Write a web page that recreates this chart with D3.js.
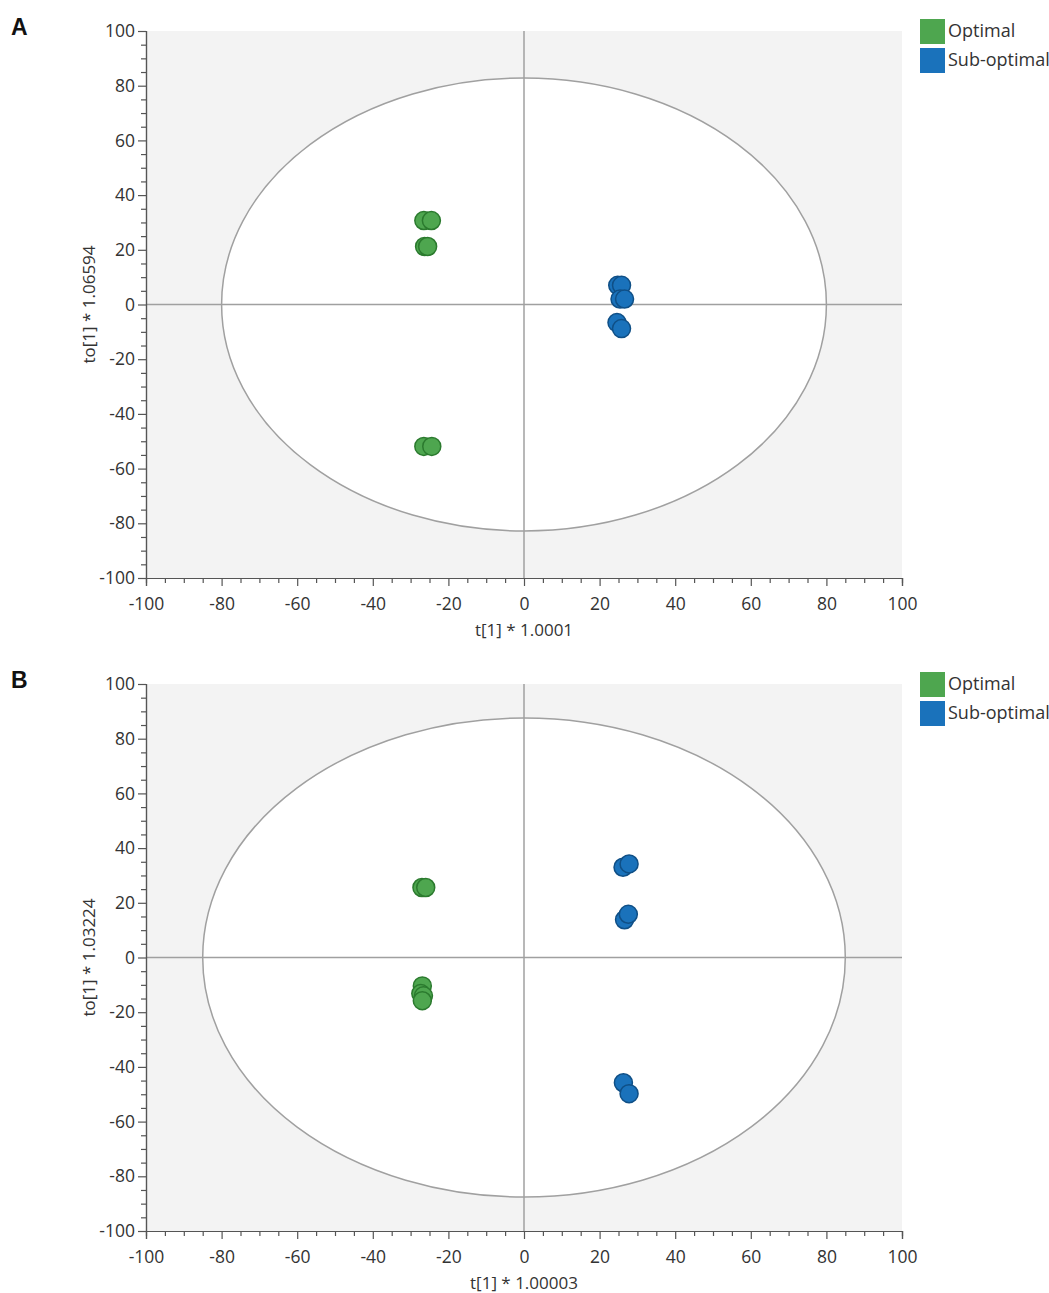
<!DOCTYPE html>
<html>
<head>
<meta charset="utf-8">
<script src="https://cdn.jsdelivr.net/npm/d3@7"></script>
<style>
  body { margin: 0; background: #fff; }
  svg text { font-family: "Open Sans", "Noto Sans", sans-serif; fill: #333; }
  .panel-letter { font-family: "Liberation Sans", Arial, sans-serif; font-weight: bold; fill: #111; }
</style>
</head>
<body>
<svg id="chart" width="1049" height="1293"></svg>
<script>
// tick values shared by both panels
var majorTicks = [-100, -80, -60, -40, -20, 0, 20, 40, 60, 80, 100];
var groups = ["Optimal", "Sub-optimal"];

// panel A scores: [t, to]
var optimalA = [[-26.5, 30.7], [-24.5, 30.7], [-26.3, 21.2], [-25.5, 21.2], [-26.5, -51.9], [-24.4, -51.9]];
var subOptimalA = [[24.8, 7.0], [25.8, 7.0], [25.4, 2.0], [26.6, 2.0], [24.6, -6.6], [25.8, -8.8]];
var ellipseA = [80, 82.8];

// panel B scores
var optimalB = [[-27.0, 25.6], [-26.0, 25.6], [-26.9, -10.4], [-27.3, -13.2], [-26.6, -14.0], [-26.9, -15.8]];
var subOptimalB = [[26.2, 33.0], [27.8, 34.2], [26.6, 13.8], [27.6, 15.8], [26.3, -45.8], [27.8, -49.8]];
var ellipseB = [85, 87.6];

var panels = [
  {letter: "A", top: 31, xlab: "t[1] * 1.0001", ylab: "to[1] * 1.06594", series: [optimalA, subOptimalA], ell: ellipseA},
  {letter: "B", top: 684, xlab: "t[1] * 1.00003", ylab: "to[1] * 1.03224", series: [optimalB, subOptimalB], ell: ellipseB}
];

var fills = ["#4ea64f", "#1a72bb"],
    strokes = ["#2b7a2e", "#0f4f86"],
    legendFills = ["#4ea64f", "#1a72bb"];

var svg = d3.select("#chart"),
    left = 146, right = 902, plotH = 547;

panels.forEach(function (p) {
  var g = svg.append("g");
  var x = d3.scaleLinear().domain([-100, 100]).range([left, right]),
      y = d3.scaleLinear().domain([-100, 100]).range([p.top + plotH, p.top]);

  // background
  g.append("rect")
    .attr("x", left).attr("y", p.top)
    .attr("width", right - left).attr("height", plotH)
    .attr("fill", "#f3f3f3");

  // Hotelling ellipse
  g.append("ellipse")
    .attr("cx", x(0)).attr("cy", y(0))
    .attr("rx", x(p.ell[0]) - x(0))
    .attr("ry", y(0) - y(p.ell[1]))
    .attr("fill", "#fff")
    .attr("stroke", "#a0a0a0")
    .attr("stroke-width", 1.5);

  // zero lines
  g.append("line")
    .attr("x1", x(0)).attr("x2", x(0))
    .attr("y1", p.top).attr("y2", p.top + plotH)
    .attr("stroke", "#a0a0a0").attr("stroke-width", 1.5);
  g.append("line")
    .attr("x1", left).attr("x2", right)
    .attr("y1", y(0)).attr("y2", y(0))
    .attr("stroke", "#a0a0a0").attr("stroke-width", 1.5);

  // minor ticks
  var minor = d3.range(-100, 101, 5).filter(function (v) { return v % 20 !== 0; });
  var xMinor = d3.axisBottom(x).tickValues(minor).tickSize(5).tickFormat("");
  var yMinor = d3.axisLeft(y).tickValues(minor).tickSize(5).tickFormat("");

  var fmt = function (d) { return String(d); };
  var xAxis = d3.axisBottom(x).tickValues(majorTicks).tickSize(8).tickPadding(12).tickFormat(fmt);
  var yAxis = d3.axisLeft(y).tickValues(majorTicks).tickSize(8).tickPadding(3).tickFormat(fmt);

  [[xMinor, "bottom"], [xAxis, "bottom"], [yMinor, "left"], [yAxis, "left"]].forEach(function (a) {
    var ag = g.append("g")
      .attr("transform", a[1] === "bottom" ? "translate(0," + (p.top + plotH) + ")" : "translate(" + left + ",0)")
      .call(a[0]);
    ag.selectAll("path, line").attr("stroke", "#555").attr("stroke-width", 1.2);
    ag.selectAll("text").style("font-size", "17.5px").attr("fill", "#333")
      .style("font-family", "'Open Sans', sans-serif");
  });

  // axis titles
  g.append("text")
    .attr("x", x(0)).attr("y", p.top + plotH + 58)
    .attr("text-anchor", "middle")
    .style("font-size", "17px")
    .text(p.xlab);
  g.append("text")
    .attr("transform", "translate(95," + y(0) + ") rotate(-90)")
    .attr("text-anchor", "middle")
    .style("font-size", "17px")
    .text(p.ylab);

  // panel letter
  g.append("text")
    .attr("class", "panel-letter")
    .attr("x", 11).attr("y", p.top + 4)
    .style("font-size", "23px")
    .text(p.letter);

  // points
  p.series.forEach(function (s, i) {
    g.append("g").selectAll("circle")
      .data(s)
      .enter()
      .append("circle")
      .attr("cx", function (d) { return x(d[0]); })
      .attr("cy", function (d) { return y(d[1]); })
      .attr("r", 9)
      .attr("fill", fills[i])
      .attr("stroke", strokes[i])
      .attr("stroke-width", 1.5);
  });

  // legend
  var leg = g.selectAll(".leg")
    .data(groups)
    .enter()
    .append("g")
    .attr("transform", function (d, i) { return "translate(920," + (p.top - 12 + i * 29) + ")"; });
  leg.append("rect")
    .attr("width", 25).attr("height", 25)
    .attr("fill", function (d, i) { return legendFills[i]; });
  leg.append("text")
    .attr("x", 28).attr("y", 18)
    .style("font-size", "18px")
    .text(function (d) { return d; });
});
</script>
</body>
</html>
